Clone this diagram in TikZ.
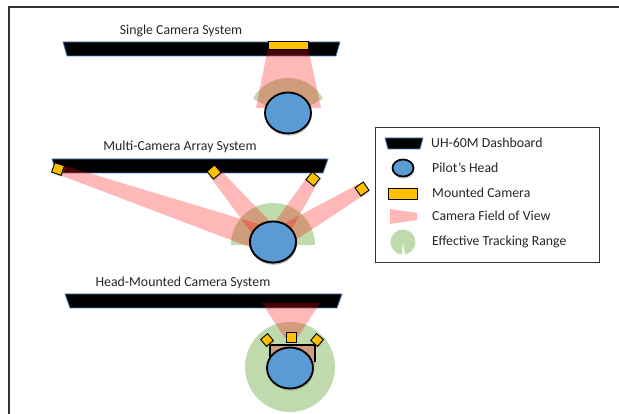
\documentclass[tikz,border=0pt]{standalone}
\usepackage{fontspec}
\setmainfont{Carlito}
\usetikzlibrary{calc, shadows, shapes.geometric, positioning}

\definecolor{headblue}{RGB}{91,155,213}
\definecolor{camyellow}{RGB}{255,192,0}
\definecolor{dashedge}{RGB}{79,129,189}
\definecolor{rangegreen}{RGB}{112,173,71}
\definecolor{textgray}{RGB}{38,38,38}

\begin{document}
\begin{tikzpicture}[x=1pt, y=-1pt,
    dashboard/.style={fill=black, draw=dashedge, line width=0.8pt},
    pilothead/.style={ellipse, draw=black, line width=1.8pt, fill=headblue,
        minimum width=46pt, minimum height=41pt, inner sep=0pt,
        drop shadow={shadow xshift=0.8pt, shadow yshift=-2.2pt, opacity=0.4}},
    camera/.style={rectangle, draw=black, line width=0.9pt, fill=camyellow,
        minimum size=10pt, inner sep=0pt,
        drop shadow={shadow xshift=0.8pt, shadow yshift=-1.5pt, opacity=0.35}},
    fov/.style={fill=red, fill opacity=0.28},
    trackrange/.style={fill=rangegreen, fill opacity=0.45},
    caption/.style={font=\fontsize{13.8}{16}\selectfont, text=textgray, inner sep=0pt}]
    \useasboundingbox (0,0) rectangle (619,414);
    \draw[line width=1.3pt, black!80] (9,414) -- (9,7) -- (619,7);

    % single camera
    \node[caption] (single) at (181,31) {Single Camera System};
    \draw[dashboard] (63,42) -- (340,42) -- (336,56) -- (67,56) -- cycle;
    \fill[trackrange] (288,118) -- ++(-151:40) arc[start angle=-151, end angle=-29, radius=40] -- cycle;
    \node[camera, minimum width=40pt, minimum height=8pt] (scam) at (288,45) {};
    \fill[fov] (scam.south west) -- (scam.south east) -- (321,108) -- (256,108) -- cycle;
    \node[camera, minimum width=40pt, minimum height=8pt] at (scam) {};
    \node[pilothead] (shead) at (288,113) {};

    % multi-camera array
    \node[caption] (multi) at (180,147) {Multi-Camera Array System};
    \draw[dashboard] (52,159) -- (328,159) -- (323,173) -- (57,173) -- cycle;
    \node[pilothead] (mhead) at (273,242) {};
    \fill[trackrange] (273,245) -- ++(-180:42) arc[start angle=-180, end angle=0, radius=42] -- cycle;
    \coordinate (c1) at (58,169);
    \coordinate (c2) at (214,172);
    \coordinate (c3) at (313,179);
    \coordinate (c4) at (362,189);
    \foreach \cam/\wa/\wb in {c1/5/13, c2/6/12, c3/6/10, c4/6/11}{
        \fill[fov] ($(\cam)!\wa pt!90:(mhead)$) -- ($(\cam)!\wa pt!-90:(mhead)$)
            -- ($(mhead)!\wb pt!90:(\cam)$) -- ($(mhead)!\wb pt!-90:(\cam)$) -- cycle;
    }
    \foreach \cam/\rot in {c1/-19, c2/40, c3/50, c4/35}{
        \node[camera, rotate=\rot] at (\cam) {};
    }
    \node[pilothead] at (mhead) {};

    % head-mounted
    \node[caption] (headmount) at (183,283) {Head-Mounted Camera System};
    \draw[dashboard] (65,294) -- (342,294) -- (337,308) -- (70,308) -- cycle;
    \fill[trackrange] (290,367) circle[radius=45];
    \node[camera] (hcam2) at (291,337) {};
    \fill[fov] (262,303) -- (320,303) -- (298,337) -- (284,337) -- cycle;
    \fill[fov] (270,345) rectangle (315,365);
    \draw[line width=1.6pt] (270,362) -- (270,345) -- (315,345) -- (315,362);
    \node[camera, minimum size=9pt, rotate=40] (hcam1) at (267,340) {};
    \node[camera] at (hcam2) {};
    \node[camera, minimum size=9pt, rotate=50] (hcam3) at (317,340) {};
    \node[pilothead] (hhead) at (290,368) {};

    % legend
    \draw[line width=1pt, black!80] (375,128) rectangle (599,263);
    \draw[dashboard] (385,138) -- (423,138) -- (420,149) -- (388,149) -- cycle;
    \node[caption, anchor=west] (ldash) at (431,143) {UH-60M Dashboard};
    \node[pilothead, minimum width=21pt, minimum height=17pt] (lhead) at (403,168) {};
    \node[caption, anchor=west] (lheadtext) at (432,168) {Pilot’s Head};
    \node[camera, minimum width=29pt, minimum height=11pt] (lcam) at (402.5,193.5) {};
    \node[caption, anchor=west] (lcamtext) at (432,193) {Mounted Camera};
    \fill[fov] (390,209) -- (417,213) -- (417,220) -- (390,224) -- cycle;
    \node[caption, anchor=west] (lfov) at (432,216) {Camera Field of View};
    \fill[trackrange] (403,242) -- ++(95:12.5) arc[start angle=95, end angle=440, radius=12.5] -- cycle;
    \node[caption, anchor=west] (lrange) at (432,242) {Effective Tracking Range};
\end{tikzpicture}
\end{document}
